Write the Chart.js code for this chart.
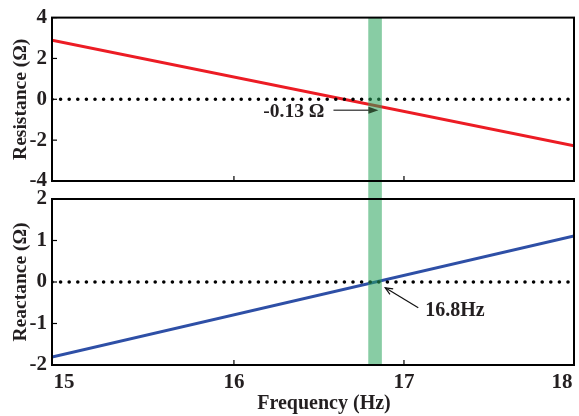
<!DOCTYPE html>
<html><head><meta charset="utf-8">
<script src="https://cdn.jsdelivr.net/npm/chart.js@4/dist/chart.umd.min.js"></script>
<style>
html,body{margin:0;padding:0;background:#fff;}
#wrap{position:relative;width:579px;height:416px;overflow:hidden;}
#c1{position:absolute;left:0;top:0;}
#c2{position:absolute;left:0;top:180px;}
</style></head>
<body><div id="wrap">
<canvas id="c1" width="579" height="200"></canvas>
<canvas id="c2" width="579" height="236"></canvas>
</div>
<script>
// ---- data ----
const frequency  = [14.93, 18.0];
const resistance = [2.89, -2.27];
const reactance  = [-1.81, 1.11];
const zeroLine   = [0, 0];
const xTicks   = [15, 16, 17, 18];
const resTicks = [-4, -2, 0, 2, 4];
const reaTicks = [-2, -1, 0, 1, 2];
const band = [16.79, 16.87];
const resAnnot = {label: '-0.13 Ω', x: 16.85, y: -0.53};
const reaAnnot = {label: '16.8Hz', x: 16.89, y: -0.14};
const xTitle = 'Frequency (Hz)';
const resTitle = 'Resistance (Ω)';
const reaTitle = 'Reactance (Ω)';

const FONT = '"Liberation Serif", "Times New Roman", serif';
const TEXT = '#231f20';
function pts(xs, ys){ return xs.map((x,i)=>({x, y: ys[i]})); }

const overlay = {
  id: 'overlay',
  afterDatasetsDraw(chart, args, o){
    const {ctx, chartArea: a, scales: {x, y}} = chart;
    ctx.save();
    // highlighted band (semi-transparent, over the lines)
    const b0 = x.getPixelForValue(band[0]), b1 = x.getPixelForValue(band[1]);
    const bt = o.which === 'top' ? a.top : 10;
    const bb = o.which === 'top' ? 190 : a.bottom;
    ctx.fillStyle = 'rgba(38,162,89,0.55)';
    ctx.fillRect(b0, bt, b1 - b0, bb - bt);
    // frame
    ctx.strokeStyle = '#000'; ctx.lineWidth = 2;
    ctx.strokeRect(a.left, a.top, a.right - a.left, a.bottom - a.top);
    // inward ticks (interior ones only)
    ctx.lineWidth = 1.2;
    xTicks.forEach(v => {
      const p = x.getPixelForValue(v);
      if (p - a.left < 20 || a.right - p < 20) return;
      ctx.beginPath(); ctx.moveTo(p, a.bottom); ctx.lineTo(p, a.bottom - 5); ctx.stroke();
    });
    o.yTicks.forEach(v => { const p = y.getPixelForValue(v); ctx.beginPath(); ctx.moveTo(a.left, p); ctx.lineTo(a.left + 5, p); ctx.stroke(); });
    // annotation
    const an = o.annot;
    const tx = x.getPixelForValue(an.x), ty = y.getPixelForValue(an.y);
    ctx.fillStyle = TEXT; ctx.textBaseline = 'middle';
    if (o.which === 'top') {
      const sx = tx - 45;
      ctx.strokeStyle = '#555'; ctx.lineWidth = 1.5;
      ctx.beginPath(); ctx.moveTo(sx, ty); ctx.lineTo(tx - 8, ty); ctx.stroke();
      ctx.fillStyle = '#2d4a2f';
      ctx.beginPath(); ctx.moveTo(tx, ty); ctx.lineTo(tx - 10, ty - 3.5); ctx.lineTo(tx - 10, ty + 3.5); ctx.closePath(); ctx.fill();
      ctx.font = 'bold 19.5px ' + FONT;
      ctx.fillStyle = TEXT; ctx.textAlign = 'right';
      ctx.fillText(an.label, sx - 9, ty + 2);
    } else {
      const sx = tx + 33, sy = ty + 20;
      ctx.strokeStyle = '#111'; ctx.lineWidth = 1.2;
      ctx.beginPath(); ctx.moveTo(sx, sy); ctx.lineTo(tx, ty); ctx.stroke();
      const ang = Math.atan2(sy - ty, sx - tx);
      ctx.beginPath();
      ctx.moveTo(tx + 8 * Math.cos(ang + 0.4), ty + 8 * Math.sin(ang + 0.4));
      ctx.lineTo(tx, ty);
      ctx.lineTo(tx + 8 * Math.cos(ang - 0.4), ty + 8 * Math.sin(ang - 0.4));
      ctx.stroke();
      ctx.font = 'bold 20px ' + FONT;
      ctx.textAlign = 'left';
      ctx.fillText(an.label, sx + 7, sy + 3);
      // x tick labels and axis title
      ctx.font = 'bold 21px ' + FONT; ctx.textAlign = 'center';
      xTicks.forEach(v => {
        const p = Math.min(Math.max(x.getPixelForValue(v), 59), 562);
        ctx.fillText(String(v), p, a.bottom + 18);
      });
      ctx.font = 'bold 20px ' + FONT;
      ctx.fillText(xTitle, (a.left + a.right) / 2 + 11, a.bottom + 39);
    }
    ctx.restore();
  }
};

function makeChart(id, which, series, color, yMin, yMax, yTicks, title, annot, padding){
  return new Chart(document.getElementById(id), {
    type: 'line',
    data: { datasets: [
      { data: pts(frequency, zeroLine), borderColor: '#000', borderWidth: 3.6, borderDash: [0, 8.6], borderCapStyle: 'round', pointRadius: 0, tension: 0 },
      { data: pts(frequency, series), borderColor: color, borderWidth: 3, pointRadius: 0, tension: 0 }
    ]},
    options: {
      responsive: false, animation: false, devicePixelRatio: 1,
      layout: { padding },
      plugins: { legend: {display: false}, tooltip: {enabled: false}, overlay: { which, yTicks, annot } },
      scales: {
        x: { type: 'linear', min: frequency[0], max: frequency[1], display: which !== 'top',
             grid: {display: false}, border: {display: false}, ticks: {display: false},
             afterBuildTicks: s => { s.ticks = xTicks.map(v => ({value: v})); },
             afterFit: s => { s.height = which === 'top' ? 0 : 51; } },
        y: { min: yMin, max: yMax, grid: {display: false, drawTicks: false}, border: {display: false},
             afterBuildTicks: s => { s.ticks = yTicks.map(v => ({value: v})); },
             ticks: { color: TEXT, padding: 5, font: {family: FONT, size: 21, weight: 'bold'} },
             title: { display: true, text: title, color: TEXT, padding: {top: 9, bottom: 0}, font: {family: FONT, size: 19.5, weight: 'bold'} },
             afterFit: s => { s.width = 52; } }
      }
    },
    plugins: [overlay]
  });
}

makeChart('c1', 'top', resistance, '#ec1c24', -4, 4, resTicks, resTitle, resAnnot, {left: 0, right: 5, top: 15, bottom: 19});
makeChart('c2', 'bottom', reactance, '#2e4fa6', -2, 2, reaTicks, reaTitle, reaAnnot, {left: 0, right: 5, top: 19, bottom: 0});
</script>
</body></html>
